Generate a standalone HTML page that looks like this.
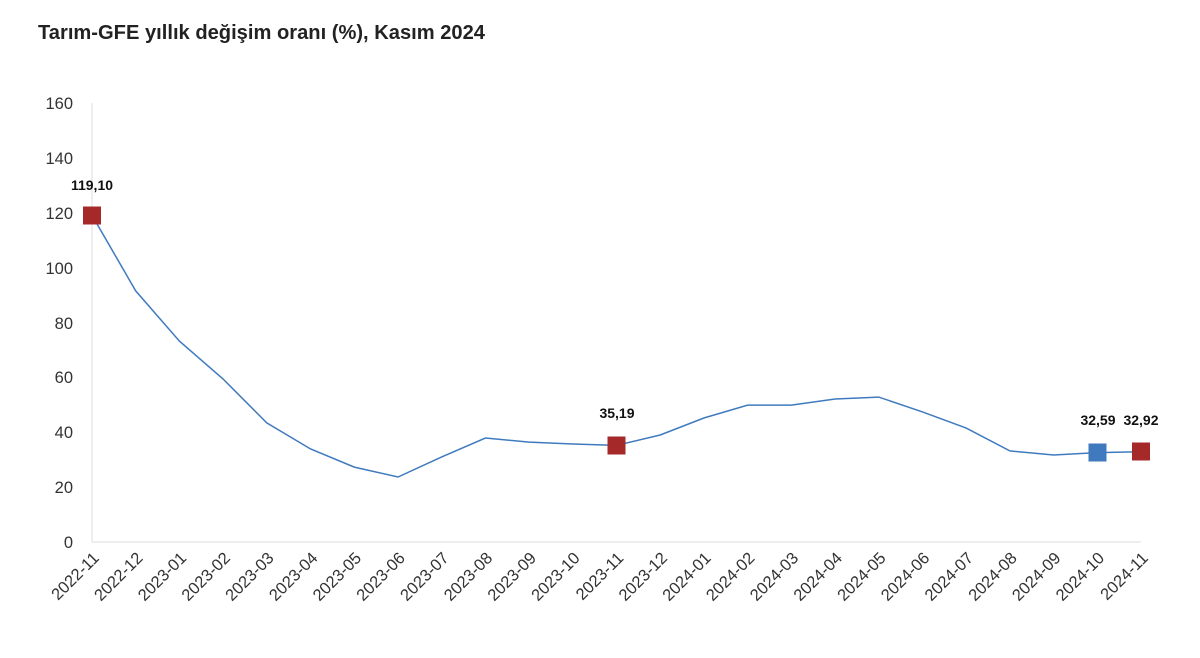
<!DOCTYPE html>
<html><head><meta charset="utf-8"><style>
html,body{margin:0;padding:0;background:#fff;}
svg{display:block;font-family:"Liberation Sans",sans-serif;}
</style></head><body>
<svg width="1200" height="658" viewBox="0 0 1200 658">
<text x="38" y="39" font-size="20" font-weight="bold" fill="#222" textLength="447" lengthAdjust="spacingAndGlyphs">Tarım-GFE yıllık değişim oranı (%), Kasım 2024</text>
<g font-size="16.5" fill="#333" text-anchor="end">
<text x="73" y="109">160</text><text x="73" y="164">140</text><text x="73" y="219">120</text>
<text x="73" y="274">100</text><text x="73" y="329">80</text><text x="73" y="383">60</text>
<text x="73" y="438">40</text><text x="73" y="493">20</text><text x="73" y="548">0</text>
</g>
<line x1="92" y1="103" x2="92" y2="542" stroke="#ddd" stroke-width="1"/>
<line x1="92" y1="542" x2="1141" y2="542" stroke="#ddd" stroke-width="1"/>
<polyline fill="none" stroke="#3f7abf" stroke-width="1.5" points="92,215.2 135.7,290.9 179.4,341.1 223.1,379 266.8,422.9 310.6,449 354.3,467.1 398,477 441.7,456.9 485.4,438 529.1,442.1 572.8,444 616.5,445.4 660.2,435 703.9,418 747.6,405.1 791.4,405.1 835.1,399 878.8,397.1 922.5,411.9 966.2,428.1 1009.9,450.9 1053.6,455 1097.3,452.6 1141,451.7"/>
<rect x="83" y="206.5" width="18" height="18" fill="#a6292a"/>
<rect x="607.5" y="436.5" width="18" height="18" fill="#a6292a"/>
<rect x="1088.5" y="443.5" width="18" height="18" fill="#3f7abf"/>
<rect x="1132" y="442.5" width="18" height="18" fill="#a6292a"/>
<g font-size="14" font-weight="bold" fill="#111" text-anchor="middle">
<text x="92" y="190">119,10</text>
<text x="617" y="418">35,19</text>
<text x="1098" y="425">32,59</text>
<text x="1141" y="425">32,92</text>
</g>
<g font-size="16.5" fill="#333" text-anchor="end">
<text transform="translate(100,559) rotate(-45)">2022-11</text>
<text transform="translate(143.7,559) rotate(-45)">2022-12</text>
<text transform="translate(187.4,559) rotate(-45)">2023-01</text>
<text transform="translate(231.1,559) rotate(-45)">2023-02</text>
<text transform="translate(274.8,559) rotate(-45)">2023-03</text>
<text transform="translate(318.6,559) rotate(-45)">2023-04</text>
<text transform="translate(362.3,559) rotate(-45)">2023-05</text>
<text transform="translate(406,559) rotate(-45)">2023-06</text>
<text transform="translate(449.7,559) rotate(-45)">2023-07</text>
<text transform="translate(493.4,559) rotate(-45)">2023-08</text>
<text transform="translate(537.1,559) rotate(-45)">2023-09</text>
<text transform="translate(580.8,559) rotate(-45)">2023-10</text>
<text transform="translate(624.5,559) rotate(-45)">2023-11</text>
<text transform="translate(668.2,559) rotate(-45)">2023-12</text>
<text transform="translate(711.9,559) rotate(-45)">2024-01</text>
<text transform="translate(755.6,559) rotate(-45)">2024-02</text>
<text transform="translate(799.4,559) rotate(-45)">2024-03</text>
<text transform="translate(843.1,559) rotate(-45)">2024-04</text>
<text transform="translate(886.8,559) rotate(-45)">2024-05</text>
<text transform="translate(930.5,559) rotate(-45)">2024-06</text>
<text transform="translate(974.2,559) rotate(-45)">2024-07</text>
<text transform="translate(1017.9,559) rotate(-45)">2024-08</text>
<text transform="translate(1061.6,559) rotate(-45)">2024-09</text>
<text transform="translate(1105.3,559) rotate(-45)">2024-10</text>
<text transform="translate(1149,559) rotate(-45)">2024-11</text>
</g>
</svg>
</body></html>
